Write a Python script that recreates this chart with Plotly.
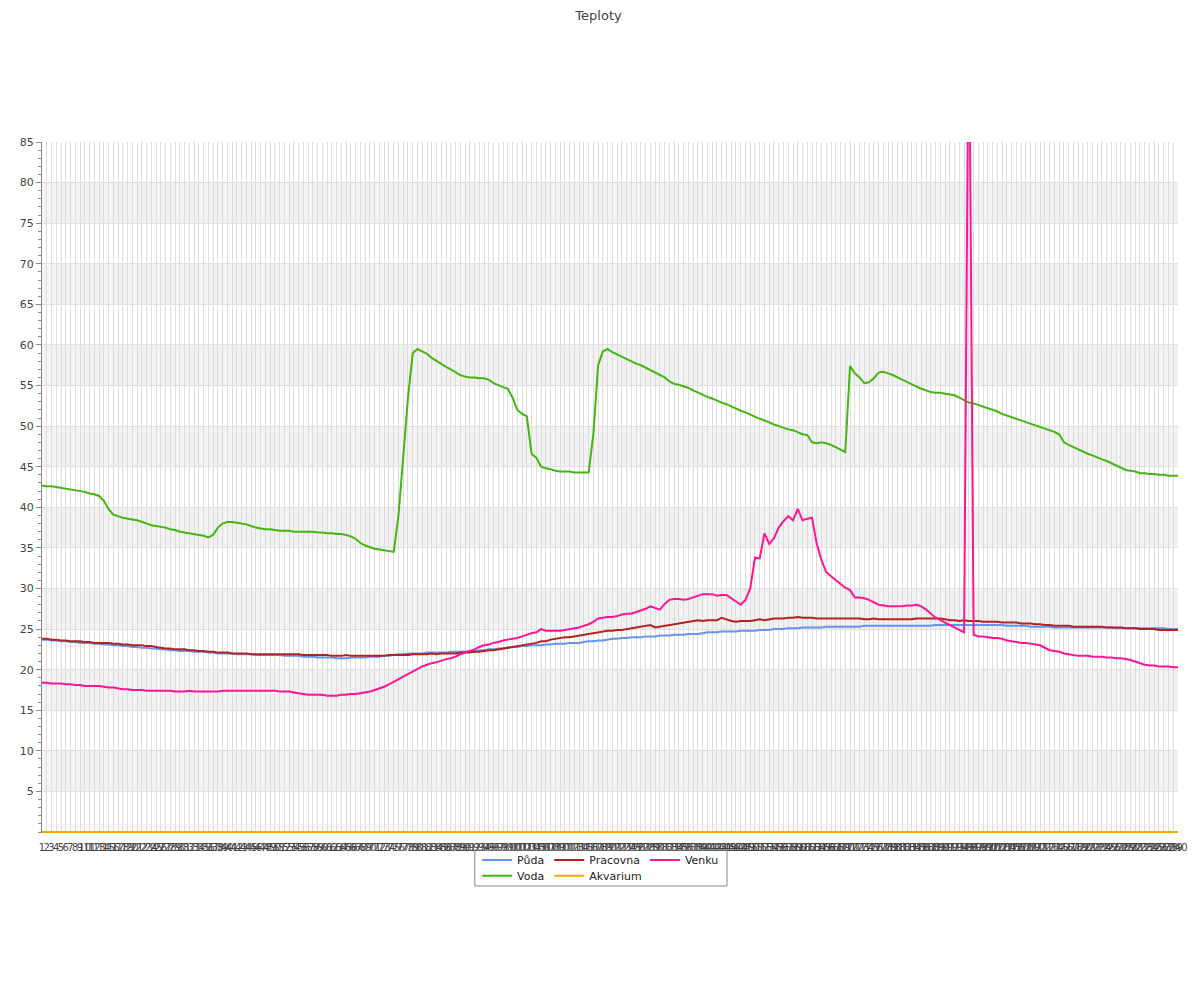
import plotly.graph_objects as go

# ---- data ----
categories = [str(i) for i in range(1, 241)]

puda = [
    23.7, 23.7, 23.6, 23.6, 23.5, 23.5, 23.4, 23.4, 23.3, 23.3,
    23.3, 23.2, 23.2, 23.1, 23.1, 23.0, 23.0, 22.9, 22.9, 22.8,
    22.8, 22.7, 22.7, 22.6, 22.6, 22.5, 22.5, 22.4, 22.4, 22.3,
    22.3, 22.3, 22.2, 22.2, 22.2, 22.1, 22.1, 22.0, 22.0, 22.0,
    22.0, 21.9, 21.9, 21.9, 21.9, 21.8, 21.8, 21.8, 21.8, 21.8,
    21.8, 21.7, 21.7, 21.7, 21.7, 21.6, 21.6, 21.6, 21.5, 21.5,
    21.5, 21.5, 21.4, 21.4, 21.4, 21.5, 21.5, 21.5, 21.5, 21.6,
    21.6, 21.6, 21.7, 21.7, 21.8, 21.9, 21.9, 22.0, 22.0, 22.0,
    22.0, 22.1, 22.1, 22.1, 22.1, 22.1, 22.2, 22.2, 22.2, 22.2,
    22.3, 22.3, 22.4, 22.4, 22.5, 22.5, 22.6, 22.6, 22.7, 22.8,
    22.8, 22.9, 22.9, 23.0, 23.0, 23.0, 23.1, 23.1, 23.2, 23.2,
    23.2, 23.3, 23.3, 23.3, 23.4, 23.5, 23.5, 23.6, 23.6, 23.7,
    23.8, 23.8, 23.9, 23.9, 24.0, 24.0, 24.0, 24.1, 24.1, 24.1,
    24.2, 24.2, 24.2, 24.3, 24.3, 24.3, 24.4, 24.4, 24.4, 24.5,
    24.6, 24.6, 24.6, 24.7, 24.7, 24.7, 24.7, 24.8, 24.8, 24.8,
    24.8, 24.9, 24.9, 24.9, 25.0, 25.0, 25.0, 25.1, 25.1, 25.1,
    25.2, 25.2, 25.2, 25.2, 25.2, 25.3, 25.3, 25.3, 25.3, 25.3,
    25.3, 25.3, 25.3, 25.4, 25.4, 25.4, 25.4, 25.4, 25.4, 25.4,
    25.4, 25.4, 25.4, 25.4, 25.4, 25.4, 25.4, 25.4, 25.5, 25.5,
    25.5, 25.5, 25.5, 25.5, 25.5, 25.5, 25.5, 25.5, 25.5, 25.5,
    25.5, 25.5, 25.5, 25.4, 25.4, 25.4, 25.4, 25.4, 25.3, 25.3,
    25.3, 25.3, 25.3, 25.2, 25.2, 25.2, 25.2, 25.2, 25.2, 25.2,
    25.2, 25.2, 25.2, 25.2, 25.2, 25.2, 25.1, 25.1, 25.1, 25.1,
    25.1, 25.1, 25.1, 25.1, 25.1, 25.1, 25.1, 25.0, 25.0, 25.0,
]

voda = [
    42.7, 42.6, 42.6, 42.5, 42.4, 42.3, 42.2, 42.1, 42.0, 41.9,
    41.7, 41.6, 41.4, 40.8, 39.8, 39.1, 38.9, 38.7, 38.6, 38.5,
    38.4, 38.2, 38.0, 37.8, 37.7, 37.6, 37.5, 37.3, 37.2, 37.0,
    36.9, 36.8, 36.7, 36.6, 36.5, 36.3, 36.6, 37.5, 38.0, 38.2,
    38.2, 38.1, 38.0, 37.9, 37.7, 37.5, 37.4, 37.3, 37.3, 37.2,
    37.1, 37.1, 37.1, 37.0, 37.0, 37.0, 37.0, 37.0, 36.9, 36.9,
    36.8, 36.8, 36.7, 36.7, 36.6, 36.4, 36.1, 35.6, 35.3, 35.1,
    34.9, 34.8, 34.7, 34.6, 34.5, 39.0, 46.0, 53.5, 59.0, 59.5,
    59.2, 58.9, 58.4, 58.0, 57.7, 57.3, 57.0, 56.6, 56.3, 56.1,
    56.0, 56.0, 55.9, 55.9, 55.7, 55.3, 55.0, 54.8, 54.6, 53.5,
    52.0, 51.5, 51.2, 46.6, 46.1, 45.0, 44.8, 44.7, 44.5, 44.4,
    44.4, 44.4, 44.3, 44.3, 44.3, 44.3, 49.0, 57.5, 59.2, 59.5,
    59.1, 58.8, 58.6, 58.3, 58.0, 57.7, 57.5, 57.2, 56.9, 56.6,
    56.4, 56.0, 55.5, 55.2, 55.1, 54.9, 54.7, 54.4, 54.1, 53.9,
    53.6, 53.4, 53.1, 52.9, 52.7, 52.4, 52.2, 51.9, 51.7, 51.4,
    51.1, 50.9, 50.7, 50.4, 50.2, 50.0, 49.8, 49.6, 49.5, 49.2,
    49.0, 48.9, 48.0, 47.9, 48.0, 47.9, 47.7, 47.4, 47.1, 46.8,
    57.4, 56.5, 56.0, 55.3, 55.4, 55.9, 56.6, 56.7, 56.5, 56.3,
    56.0, 55.7, 55.4, 55.2, 54.9, 54.6, 54.4, 54.2, 54.1, 54.1,
    54.0, 53.9, 53.8, 53.5, 53.2, 52.9, 52.8, 52.6, 52.4, 52.2,
    52.0, 51.8, 51.5, 51.3, 51.1, 50.9, 50.7, 50.5, 50.3, 50.1,
    49.9, 49.7, 49.5, 49.3, 49.0, 48.0, 47.7, 47.4, 47.2, 46.9,
    46.6, 46.4, 46.1, 45.9, 45.7, 45.4, 45.1, 44.8, 44.6, 44.5,
    44.4, 44.2, 44.2, 44.1, 44.1, 44.0, 44.0, 43.9, 43.9, 43.9,
]

pracovna = [
    23.8, 23.8, 23.7, 23.7, 23.6, 23.6, 23.5, 23.5, 23.5, 23.4,
    23.4, 23.3, 23.3, 23.3, 23.3, 23.2, 23.2, 23.1, 23.1, 23.0,
    23.0, 23.0, 22.9, 22.9, 22.8, 22.7, 22.6, 22.6, 22.5, 22.5,
    22.5, 22.4, 22.4, 22.3, 22.3, 22.2, 22.2, 22.1, 22.1, 22.1,
    22.0, 22.0, 22.0, 22.0, 21.9, 21.9, 21.9, 21.9, 21.9, 21.9,
    21.9, 21.9, 21.9, 21.9, 21.9, 21.8, 21.8, 21.8, 21.8, 21.8,
    21.8, 21.7, 21.7, 21.7, 21.8, 21.7, 21.7, 21.7, 21.7, 21.7,
    21.7, 21.7, 21.7, 21.8, 21.8, 21.8, 21.8, 21.8, 21.9, 21.9,
    21.9, 21.9, 22.0, 21.9, 22.0, 22.0, 22.0, 22.0, 22.1, 22.1,
    22.1, 22.2, 22.2, 22.3, 22.4, 22.4, 22.5, 22.6, 22.7, 22.8,
    22.9, 23.0, 23.1, 23.2, 23.3, 23.5, 23.5, 23.7, 23.8, 23.9,
    24.0, 24.0, 24.1, 24.2, 24.3, 24.4, 24.5, 24.6, 24.7, 24.8,
    24.8, 24.9, 24.9, 25.0, 25.1, 25.2, 25.3, 25.4, 25.5, 25.2,
    25.3, 25.4, 25.5, 25.6, 25.7, 25.8, 25.9, 26.0, 26.1, 26.0,
    26.1, 26.1, 26.1, 26.4, 26.2, 26.0, 25.9, 26.0, 26.0, 26.0,
    26.1, 26.2, 26.1, 26.2, 26.3, 26.3, 26.3, 26.4, 26.4, 26.5,
    26.4, 26.4, 26.4, 26.3, 26.3, 26.3, 26.3, 26.3, 26.3, 26.3,
    26.3, 26.3, 26.3, 26.2, 26.2, 26.3, 26.2, 26.2, 26.2, 26.2,
    26.2, 26.2, 26.2, 26.2, 26.3, 26.3, 26.3, 26.3, 26.3, 26.3,
    26.2, 26.1, 26.1, 26.0, 26.1, 26.0, 26.0, 26.0, 25.9, 25.9,
    25.9, 25.9, 25.8, 25.8, 25.8, 25.8, 25.7, 25.7, 25.7, 25.6,
    25.6, 25.5, 25.5, 25.4, 25.4, 25.4, 25.4, 25.3, 25.3, 25.3,
    25.3, 25.3, 25.3, 25.3, 25.2, 25.2, 25.2, 25.2, 25.1, 25.1,
    25.1, 25.0, 25.0, 25.0, 25.0, 24.9, 24.9, 24.9, 24.9, 24.9,
]

akvarium = [
    0, 0, 0, 0, 0, 0, 0, 0, 0, 0, 0, 0, 0, 0, 0, 0, 0, 0, 0, 0, 0, 0, 0, 0,
    0, 0, 0, 0, 0, 0, 0, 0, 0, 0, 0, 0, 0, 0, 0, 0, 0, 0, 0, 0, 0, 0, 0, 0,
    0, 0, 0, 0, 0, 0, 0, 0, 0, 0, 0, 0, 0, 0, 0, 0, 0, 0, 0, 0, 0, 0, 0, 0,
    0, 0, 0, 0, 0, 0, 0, 0, 0, 0, 0, 0, 0, 0, 0, 0, 0, 0, 0, 0, 0, 0, 0, 0,
    0, 0, 0, 0, 0, 0, 0, 0, 0, 0, 0, 0, 0, 0, 0, 0, 0, 0, 0, 0, 0, 0, 0, 0,
    0, 0, 0, 0, 0, 0, 0, 0, 0, 0, 0, 0, 0, 0, 0, 0, 0, 0, 0, 0, 0, 0, 0, 0,
    0, 0, 0, 0, 0, 0, 0, 0, 0, 0, 0, 0, 0, 0, 0, 0, 0, 0, 0, 0, 0, 0, 0, 0,
    0, 0, 0, 0, 0, 0, 0, 0, 0, 0, 0, 0, 0, 0, 0, 0, 0, 0, 0, 0, 0, 0, 0, 0,
    0, 0, 0, 0, 0, 0, 0, 0, 0, 0, 0, 0, 0, 0, 0, 0, 0, 0, 0, 0, 0, 0, 0, 0,
    0, 0, 0, 0, 0, 0, 0, 0, 0, 0, 0, 0, 0, 0, 0, 0, 0, 0, 0, 0, 0, 0, 0, 0,
]

venku = [
    18.4, 18.4, 18.3, 18.3, 18.3, 18.2, 18.2, 18.1, 18.1, 18.0,
    18.0, 18.0, 18.0, 17.9, 17.8, 17.8, 17.7, 17.6, 17.6, 17.5,
    17.5, 17.5, 17.4, 17.4, 17.4, 17.4, 17.4, 17.4, 17.3, 17.3,
    17.3, 17.4, 17.3, 17.3, 17.3, 17.3, 17.3, 17.3, 17.4, 17.4,
    17.4, 17.4, 17.4, 17.4, 17.4, 17.4, 17.4, 17.4, 17.4, 17.4,
    17.3, 17.3, 17.3, 17.2, 17.1, 17.0, 16.9, 16.9, 16.9, 16.9,
    16.8, 16.8, 16.8, 16.9, 16.9, 17.0, 17.0, 17.1, 17.2, 17.3,
    17.5, 17.7, 17.9, 18.2, 18.5, 18.8, 19.2, 19.5, 19.8, 20.1,
    20.4, 20.6, 20.8, 20.9, 21.1, 21.3, 21.4, 21.6, 21.9, 22.1,
    22.3, 22.5, 22.8, 23.0, 23.1, 23.3, 23.4, 23.6, 23.7, 23.8,
    23.9, 24.1, 24.3, 24.5, 24.6, 25.0, 24.8, 24.8, 24.8, 24.8,
    24.9, 25.0, 25.1, 25.2, 25.4, 25.6, 25.9, 26.3, 26.4, 26.5,
    26.5, 26.6, 26.8, 26.9, 26.9, 27.1, 27.3, 27.5, 27.8, 27.6,
    27.4, 28.1, 28.6, 28.7, 28.7, 28.6, 28.7, 28.9, 29.1, 29.3,
    29.3, 29.3, 29.1, 29.2, 29.2, 28.8, 28.3, 28.0, 28.6, 30.0,
    33.8, 33.7, 36.8, 35.5, 36.2, 37.5, 38.3, 38.9, 38.4, 39.8,
    38.4, 38.6, 38.7, 35.5, 33.5, 32.0, 31.5, 31.0, 30.5, 30.1,
    29.8, 28.9, 28.9, 28.8, 28.6, 28.3, 28.0, 27.9, 27.8, 27.8,
    27.8, 27.8, 27.9, 27.9, 28.0, 27.8, 27.4, 26.9, 26.4, 26.1,
    25.8, 25.4, 25.1, 24.8, 24.6, 105.0, 24.3, 24.1, 24.1, 24.0,
    23.9, 23.9, 23.8, 23.6, 23.5, 23.4, 23.3, 23.3, 23.2, 23.1,
    23.0, 22.7, 22.4, 22.3, 22.2, 22.0, 21.9, 21.8, 21.7, 21.7,
    21.7, 21.6, 21.6, 21.6, 21.5, 21.5, 21.4, 21.4, 21.3, 21.2,
    21.0, 20.8, 20.6, 20.5, 20.5, 20.4, 20.4, 20.4, 20.3, 20.3,
]

y_tick_values = [5, 10, 15, 20, 25, 30, 35, 40, 45, 50, 55, 60, 65, 70, 75, 80, 85]
band_starts = [5, 15, 25, 35, 45, 55, 65, 75]

# ---- figure ----
FONT = "DejaVu Sans"
fig = go.Figure()

series = [
    ("Půda", puda, "#6495ED", "legend"),
    ("Voda", voda, "#44B511", "legend2"),
    ("Pracovna", pracovna, "#B22222", "legend"),
    ("Akvarium", akvarium, "#FFA500", "legend2"),
    ("Venku", venku, "#FF1493", "legend"),
]
for name, vals, color, lg in series:
    fig.add_trace(go.Scatter(
        x=categories, y=vals, name=name, mode="lines",
        line=dict(color=color, width=2), legend=lg,
    ))

shapes = []
for b in band_starts:
    shapes.append(dict(type="rect", xref="paper", yref="y", x0=0, x1=1,
                       y0=b, y1=b + 5, fillcolor="#F2F2F2",
                       line=dict(width=0), layer="below"))
# legend frame
shapes.append(dict(type="rect", xref="paper", yref="paper",
                   x0=0.381, x1=0.603, y0=-0.0767, y1=-0.0246,
                   line=dict(color="#888888", width=1), fillcolor="rgba(0,0,0,0)"))

legend_common = dict(orientation="h", xanchor="left", yanchor="middle",
                     font=dict(family=FONT, size=11, color="#222"),
                     bgcolor="rgba(0,0,0,0)", itemwidth=30,
                     tracegroupgap=0)

fig.update_layout(
    width=1192, height=984,
    margin=dict(l=32, r=17, t=134, b=159),
    paper_bgcolor="white", plot_bgcolor="white",
    font=dict(family=FONT, size=11, color="#444"),
    title=dict(text="Teploty", x=0.4954, xanchor="center", xref="container",
               y=0.997, yanchor="top", yref="container", pad=dict(t=0, b=0, l=0, r=0),
               font=dict(family=FONT, size=13, color="#444")),
    shapes=shapes,
    legend=dict(x=0.383, y=-0.039, **legend_common),
    legend2=dict(x=0.383, y=-0.062, **legend_common),
    xaxis=dict(
        type="category", range=[0, len(categories) - 1],
        tickmode="array", tickvals=categories, ticktext=categories,
        tickangle=0, tickfont=dict(family=FONT, size=10, color="#444"),
        ticklabelstandoff=7,
        showgrid=True, gridcolor="#DDDDDD", gridwidth=1,
        showline=False, zeroline=False, ticks="",
    ),
    yaxis=dict(
        range=[-0.12, 85], tickmode="array", tickvals=y_tick_values,
        tickfont=dict(family=FONT, size=11, color="#444"),
        showgrid=True, gridcolor="#E0E0E0", gridwidth=1,
        showline=True, linecolor="#888888", linewidth=1,
        ticks="outside", ticklen=5, tickcolor="#888888",
        minor=dict(dtick=1, tick0=0, ticks="outside", ticklen=3,
                   tickcolor="#888888", showgrid=False),
        zeroline=False,
    ),
)

fig.write_html("out.html")
